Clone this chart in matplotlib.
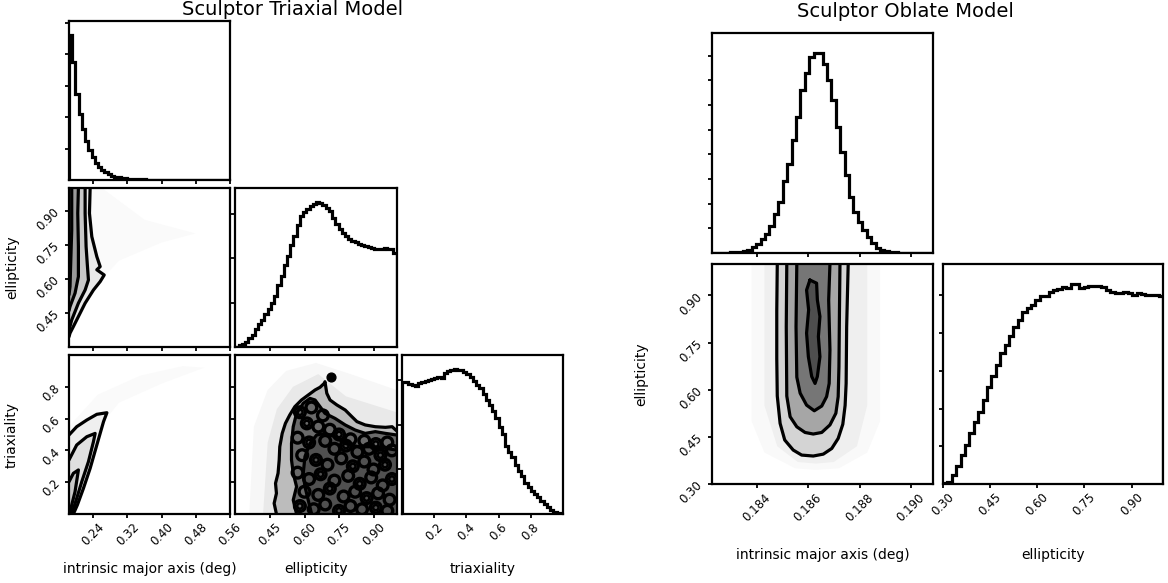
import numpy as np
from matplotlib import pyplot as plt

plt.rcParams['font.family'] = 'DejaVu Sans'

W, H = 1168, 583

# ---------------- Sculptor triaxial model ----------------
axis_lim = (0.1825, 0.561)
ell_lim = (0.30, 1.00)
tri_lim = (0.0, 1.0)

axis_ticks = [0.24, 0.32, 0.40, 0.48, 0.56]
axis_labels = ['0.24', '0.32', '0.40', '0.48', '0.56']
ell_ticks = [0.45, 0.60, 0.75, 0.90]
ell_labels = ['0.45', '0.60', '0.75', '0.90']
tri_ticks = [0.2, 0.4, 0.6, 0.8]
tri_labels = ['0.2', '0.4', '0.6', '0.8']

# 1D histograms (50 bins, arbitrary units)
tri_axis_hist = [4.60, 3.76, 2.73, 2.10, 1.62, 1.25, 0.97, 0.74, 0.55, 0.42,
                 0.32, 0.24, 0.18, 0.14, 0.10, 0.08, 0.06, 0.05, 0.04, 0.03,
                 0.03, 0.02, 0.02, 0.02, 0.01, 0.01, 0.01, 0.01, 0.01, 0.01,
                 0.01, 0.01, 0.0, 0.0, 0.0, 0.0, 0.0, 0.0, 0.0, 0.0,
                 0.0, 0.0, 0.0, 0.0, 0.0, 0.0, 0.0, 0.0, 0.0, 0.0]
tri_ell_hist = [0.01, 0.04, 0.07, 0.12, 0.20, 0.27, 0.40, 0.51, 0.61, 0.74,
                0.85, 1.00, 1.15, 1.40, 1.60, 1.85, 2.05, 2.30, 2.50, 2.75,
                2.95, 3.05, 3.12, 3.18, 3.22, 3.26, 3.24, 3.20, 3.13, 3.06,
                2.90, 2.78, 2.66, 2.58, 2.50, 2.44, 2.40, 2.36, 2.33, 2.30,
                2.28, 2.25, 2.23, 2.22, 2.21, 2.22, 2.23, 2.22, 2.20, 2.13]
tri_tri_hist = [2.96, 2.95, 2.92, 2.90, 2.88, 2.93, 2.96, 2.98, 3.01, 3.02,
                3.04, 3.06, 3.05, 3.15, 3.20, 3.23, 3.24, 3.23, 3.22, 3.19,
                3.14, 3.07, 2.99, 2.90, 2.82, 2.68, 2.55, 2.45, 2.30, 2.15,
                1.95, 1.80, 1.52, 1.40, 1.28, 1.10, 0.97, 0.85, 0.70, 0.60,
                0.52, 0.45, 0.37, 0.30, 0.22, 0.15, 0.08, 0.04, 0.02, 0.01]

# major axis vs ellipticity contours
ae_c1_x = [0.2322, 0.2306, 0.2361, 0.2479, 0.2558, 0.2479, 0.2653, 0.2558, 0.2400, 0.2204, 0.2046, 0.1928, 0.1849, 0.1825]
ae_c1_y = [1.000, 0.889, 0.786, 0.698, 0.654, 0.640, 0.617, 0.588, 0.551, 0.493, 0.434, 0.390, 0.361, 0.345]
ae_c2_x = [0.2204, 0.2204, 0.2227, 0.2259, 0.2282, 0.2204, 0.2046, 0.1889, 0.1825]
ae_c2_y = [1.000, 0.889, 0.742, 0.654, 0.595, 0.551, 0.493, 0.419, 0.375]
ae_c3_x = [0.2046, 0.2031, 0.2046, 0.2046, 0.1967, 0.1849, 0.1825]
ae_c3_y = [1.000, 0.889, 0.742, 0.610, 0.537, 0.478, 0.460]
ae_c4_x = [0.1889, 0.1889, 0.1865, 0.1849, 0.1825]
ae_c4_y = [1.000, 0.815, 0.668, 0.566, 0.530]
ae_haze_x = [0.1825, 0.26, 0.36, 0.48, 0.40, 0.30, 0.25, 0.1825]
ae_haze_y = [1.00, 1.00, 0.86, 0.80, 0.76, 0.68, 0.58, 0.35]

# major axis vs triaxiality contours
at_c1_x = [0.1825, 0.2006, 0.2243, 0.2479, 0.2716, 0.2637, 0.2479, 0.2322, 0.2164, 0.2022, 0.1928]
at_c1_y = [0.497, 0.549, 0.591, 0.627, 0.637, 0.581, 0.434, 0.287, 0.161, 0.057, 0.0]
at_c2_x = [0.1825, 0.2006, 0.2243, 0.2440, 0.2400, 0.2282, 0.2125, 0.2006, 0.1889]
at_c2_y = [0.340, 0.434, 0.486, 0.507, 0.455, 0.329, 0.203, 0.098, 0.0]
at_c3_x = [0.1825, 0.1928, 0.2046, 0.2022, 0.1967, 0.1889, 0.1849]
at_c3_y = [0.203, 0.256, 0.277, 0.235, 0.140, 0.057, 0.0]
at_haze_x = [0.1825, 0.25, 0.35, 0.45, 0.50, 0.40, 0.30, 0.27, 0.1825]
at_haze_y = [0.55, 0.75, 0.87, 0.93, 0.92, 0.82, 0.70, 0.60, 0.45]

# ellipticity vs triaxiality contours
et_c1_x = [0.478, 0.468, 0.478, 0.474, 0.485, 0.490, 0.4925, 0.503, 0.517, 0.536, 0.558, 0.587, 0.616,
           0.646, 0.6675, 0.686, 0.689, 0.697, 0.711, 0.7405, 0.777, 0.806, 0.828, 0.864, 0.908, 0.952, 0.981, 1.0]
et_c1_y = [0.0, 0.067, 0.130, 0.193, 0.256, 0.340, 0.423, 0.507, 0.570, 0.623, 0.675, 0.717, 0.748,
           0.780, 0.797, 0.822, 0.832, 0.759, 0.717, 0.686, 0.654, 0.612, 0.581, 0.560, 0.549, 0.545, 0.549, 0.524]
et_c2_x = [0.5655, 0.551, 0.5655, 0.551, 0.5435, 0.5435, 0.551, 0.5655, 0.5945, 0.6238, 0.646, 0.6675,
           0.689, 0.733, 0.777, 0.8205, 0.864, 0.908, 0.952, 1.0]
et_c2_y = [0.0, 0.088, 0.172, 0.256, 0.340, 0.444, 0.549, 0.633, 0.696, 0.727, 0.717, 0.675,
           0.633, 0.601, 0.560, 0.528, 0.507, 0.518, 0.507, 0.497]
et_c3_x = [0.631, 0.616, 0.602, 0.5945, 0.602, 0.6238, 0.653, 0.689, 0.733, 0.777, 0.835, 0.8937, 0.952, 1.0]
et_c3_y = [0.0, 0.088, 0.172, 0.256, 0.361, 0.444, 0.497, 0.507, 0.486, 0.444, 0.423, 0.423, 0.413, 0.402]
et_blob_x = [0.7156]
et_blob_y = [0.860]
# small noisy contour islands inside the dense region
et_noise_x = [0.58, 0.63, 0.68, 0.61, 0.66, 0.71, 0.75, 0.80, 0.86, 0.91, 0.96,
              0.57, 0.62, 0.69, 0.73, 0.78, 0.83, 0.88, 0.93, 0.98,
              0.59, 0.65, 0.70, 0.76, 0.81, 0.86, 0.90, 0.95,
              0.57, 0.62, 0.67, 0.73, 0.79, 0.84, 0.89, 0.94, 0.98,
              0.60, 0.66, 0.71, 0.77, 0.82, 0.87, 0.92, 0.97,
              0.58, 0.64, 0.69, 0.75, 0.80, 0.85, 0.91, 0.96]
et_noise_y = [0.64, 0.67, 0.62, 0.57, 0.55, 0.53, 0.50, 0.47, 0.46, 0.44, 0.45,
              0.48, 0.45, 0.46, 0.41, 0.43, 0.39, 0.41, 0.37, 0.40,
              0.37, 0.34, 0.31, 0.35, 0.30, 0.33, 0.28, 0.31,
              0.26, 0.22, 0.25, 0.21, 0.24, 0.19, 0.23, 0.18, 0.22,
              0.14, 0.12, 0.16, 0.11, 0.14, 0.10, 0.13, 0.09,
              0.05, 0.03, 0.06, 0.02, 0.05, 0.03, 0.04, 0.02]
et_haze1_x = [0.36, 0.38, 0.44, 0.52, 0.65, 0.80, 1.00, 1.00]
et_haze1_y = [0.00, 0.55, 0.78, 0.90, 0.95, 0.88, 0.78, 0.00]
et_haze2_x = [0.42, 0.44, 0.48, 0.55, 0.66, 0.78, 1.00, 1.00]
et_haze2_y = [0.00, 0.45, 0.66, 0.80, 0.88, 0.74, 0.64, 0.00]

# ---------------- Sculptor oblate model ----------------
ob_axis_lim = (0.18226, 0.19086)
ob_axis_ticks = [0.184, 0.186, 0.188, 0.190]
ob_axis_labels = ['0.184', '0.186', '0.188', '0.190']
ob_ell_ticks = [0.30, 0.45, 0.60, 0.75, 0.90]
ob_ell_labels = ['0.30', '0.45', '0.60', '0.75', '0.90']

ob_axis_hist = [0.0, 0.0, 0.01, 0.02, 0.03, 0.04, 0.06, 0.09, 0.14, 0.24,
                0.38, 0.58, 0.78, 1.10, 1.60, 2.05, 2.90, 3.60, 4.60, 5.50,
                6.60, 7.30, 7.95, 8.11, 8.11, 7.68, 7.00, 6.20, 5.10, 4.10,
                3.16, 2.28, 1.67, 1.27, 0.93, 0.66, 0.40, 0.19, 0.12, 0.07,
                0.04, 0.03, 0.02, 0.01, 0.01, 0.0, 0.0, 0.0, 0.0, 0.0]
ob_ell_hist = [0.02, 0.06, 0.24, 0.48, 0.77, 1.03, 1.34, 1.65, 1.92, 2.23,
               2.58, 2.85, 3.16, 3.47, 3.69, 3.91, 4.17, 4.35, 4.57, 4.66,
               4.75, 4.88, 4.97, 4.97, 5.10, 5.15, 5.17, 5.23, 5.19, 5.30,
               5.30, 5.19, 5.22, 5.25, 5.25, 5.26, 5.22, 5.15, 5.10, 5.07,
               5.07, 5.10, 5.07, 5.01, 5.07, 5.04, 5.01, 5.01, 5.01, 4.98]

ob_c1_x = [0.18480, 0.18478, 0.18478, 0.18480, 0.18491, 0.18509, 0.18542, 0.18575, 0.18620, 0.18659,
           0.18692, 0.18717, 0.18735, 0.18744, 0.18748, 0.18750, 0.18756]
ob_c1_y = [1.00, 0.85, 0.70, 0.58, 0.493, 0.440, 0.408, 0.392, 0.389, 0.395,
           0.413, 0.445, 0.49, 0.55, 0.62, 0.80, 1.00]
ob_c2_x = [0.18517, 0.18515, 0.18517, 0.18530, 0.18556, 0.18588, 0.18620, 0.18653, 0.18685, 0.18708,
           0.18717, 0.18720, 0.18722, 0.18724]
ob_c2_y = [1.00, 0.80, 0.58, 0.514, 0.482, 0.464, 0.459, 0.464, 0.488, 0.525,
           0.578, 0.673, 0.85, 1.00]
ob_c3_x = [0.18556, 0.18553, 0.18556, 0.18569, 0.18594, 0.18624, 0.18653, 0.18672, 0.18682, 0.18685, 0.18680, 0.18685]
ob_c3_y = [1.00, 0.80, 0.64, 0.589, 0.551, 0.533, 0.548, 0.578, 0.620, 0.726, 0.885, 1.00]
ob_c4_x = [0.18607, 0.18633, 0.18636, 0.18646, 0.18640, 0.18646, 0.18636, 0.18627, 0.18614, 0.18601,
           0.18594, 0.18602, 0.18594, 0.18607]
ob_c4_y = [0.949, 0.939, 0.886, 0.833, 0.769, 0.705, 0.642, 0.620, 0.642, 0.705,
           0.780, 0.854, 0.917, 0.949]
ob_haze1_x = [0.1838, 0.1838, 0.1843, 0.1855, 0.1863, 0.1872, 0.1883, 0.1888, 0.1888]
ob_haze1_y = [1.00, 0.50, 0.40, 0.35, 0.345, 0.35, 0.40, 0.50, 1.00]
ob_haze2_x = [0.1843, 0.1843, 0.1848, 0.1856, 0.1863, 0.1870, 0.1879, 0.1883, 0.1883]
ob_haze2_y = [1.00, 0.55, 0.42, 0.37, 0.365, 0.37, 0.42, 0.55, 1.00]

LW = 2.3
fs_tick = 8.5
fs_label = 10
fs_title = 14


def panel(x, y, w, h):
    ax = fig.add_axes([x / W, (H - y - h) / H, w / W, h / H])
    for s in ax.spines.values():
        s.set_linewidth(1.6)
    ax.tick_params(direction='out', length=3, width=1.3, labelsize=fs_tick, pad=2)
    return ax


def hist(ax, vals, lim):
    edges = np.linspace(lim[0], lim[1], len(vals) + 1)
    ax.stairs(vals, edges, color='k', lw=LW)
    top = 1.1 * max(vals)
    ax.set_ylim(0, top)
    ax.set_yticks(np.arange(1, int(top) + 1))
    ax.set_yticklabels([])
    ax.set_xlim(*lim)


def xticks(ax, ticks, labels, show):
    ax.set_xticks(ticks)
    if show:
        ax.set_xticklabels(labels, rotation=45)
    else:
        ax.set_xticklabels([])


def yticks(ax, ticks, labels, show):
    ax.set_yticks(ticks)
    if show:
        ax.set_yticklabels(labels, rotation=45)
    else:
        ax.set_yticklabels([])


def line(ax, x, y):
    ax.plot(x, y, color='k', lw=LW, solid_joinstyle='round', solid_capstyle='round')


fig = plt.figure(figsize=(W / 100, H / 100), dpi=100)

cols = [69, 235.5, 402]
rows = [21, 188, 355]
pw, ph = 161, 159

# --- triaxial corner ---
ax = panel(cols[0], rows[0], pw, ph)
hist(ax, tri_axis_hist, axis_lim)
xticks(ax, axis_ticks, axis_labels, False)

ax = panel(cols[0], rows[1], pw, ph)
ax.fill(ae_haze_x, ae_haze_y, color='#fafafa', lw=0)
ax.fill_betweenx(ae_c1_y, axis_lim[0], ae_c1_x, color='#e8e8e8', lw=0)
ax.fill_betweenx(ae_c2_y, axis_lim[0], ae_c2_x, color='#c8c8c8', lw=0)
ax.fill_betweenx(ae_c3_y, axis_lim[0], ae_c3_x, color='#9a9a9a', lw=0)
ax.fill_betweenx(ae_c4_y, axis_lim[0], ae_c4_x, color='#707070', lw=0)
for cx, cy in [(ae_c1_x, ae_c1_y), (ae_c2_x, ae_c2_y), (ae_c3_x, ae_c3_y), (ae_c4_x, ae_c4_y)]:
    line(ax, cx, cy)
ax.set_xlim(*axis_lim)
ax.set_ylim(*ell_lim)
xticks(ax, axis_ticks, axis_labels, False)
yticks(ax, ell_ticks, ell_labels, True)
ax.set_ylabel('ellipticity', fontsize=fs_label)
ax.yaxis.set_label_coords(-0.31, 0.5)

ax = panel(cols[0], rows[2], pw, ph)
ax.fill(at_haze_x, at_haze_y, color='#fafafa', lw=0)
ax.fill(at_c1_x + [axis_lim[0]], at_c1_y + [0.0], color='#efefef', lw=0)
ax.fill(at_c2_x + [axis_lim[0]], at_c2_y + [0.0], color='#e0e0e0', lw=0)
ax.fill(at_c3_x + [axis_lim[0]], at_c3_y + [0.0], color='#c8c8c8', lw=0)
for cx, cy in [(at_c1_x, at_c1_y), (at_c2_x, at_c2_y), (at_c3_x, at_c3_y)]:
    line(ax, cx, cy)
ax.set_xlim(*axis_lim)
ax.set_ylim(*tri_lim)
xticks(ax, axis_ticks, axis_labels, True)
yticks(ax, tri_ticks, tri_labels, True)
ax.set_xlabel('intrinsic major axis (deg)', fontsize=fs_label)
ax.xaxis.set_label_coords(0.5, -0.30)
ax.set_ylabel('triaxiality', fontsize=fs_label)
ax.yaxis.set_label_coords(-0.31, 0.5)

ax = panel(cols[1], rows[1], pw, ph)
hist(ax, tri_ell_hist, ell_lim)
xticks(ax, ell_ticks, ell_labels, False)

ax = panel(cols[1], rows[2], pw, ph)
ax.fill(et_haze1_x, et_haze1_y, color='#f7f7f7', lw=0)
ax.fill(et_haze2_x, et_haze2_y, color='#e9e9e9', lw=0)
ax.fill(et_c1_x + [1.0], et_c1_y + [0.0], color='#bcbcbc', lw=0)
ax.fill(et_c2_x + [1.0], et_c2_y + [0.0], color='#6a6a6a', lw=0)
ax.fill(et_c3_x + [1.0], et_c3_y + [0.0], color='#505050', lw=0)
for cx, cy in [(et_c1_x, et_c1_y), (et_c2_x, et_c2_y), (et_c3_x, et_c3_y)]:
    line(ax, cx, cy)
ax.scatter(et_noise_x, et_noise_y, s=60, facecolors='none', edgecolors='k', linewidths=2.4)
ax.scatter(et_noise_x[::3], et_noise_y[::3], s=15, facecolors='none', edgecolors='k', linewidths=1.8)
ax.scatter(et_blob_x, et_blob_y, s=40, color='k')
ax.set_xlim(*ell_lim)
ax.set_ylim(*tri_lim)
xticks(ax, ell_ticks, ell_labels, True)
yticks(ax, tri_ticks, tri_labels, False)
ax.set_xlabel('ellipticity', fontsize=fs_label)
ax.xaxis.set_label_coords(0.5, -0.30)

ax = panel(cols[2], rows[2], pw, ph)
hist(ax, tri_tri_hist, tri_lim)
xticks(ax, tri_ticks, tri_labels, True)
ax.set_xlabel('triaxiality', fontsize=fs_label)
ax.xaxis.set_label_coords(0.5, -0.30)

fig.text(182 / W, 1 - 0 / H, 'Sculptor Triaxial Model', fontsize=fs_title, ha='left', va='top')

# --- oblate corner ---
ax = panel(712, 33, 221, 220)
hist(ax, ob_axis_hist, ob_axis_lim)
xticks(ax, ob_axis_ticks, ob_axis_labels, False)

ax = panel(712, 264, 221, 220)
ax.fill(ob_haze1_x, ob_haze1_y, color='#f9f9f9', lw=0)
ax.fill(ob_haze2_x, ob_haze2_y, color='#efefef', lw=0)
ax.fill(ob_c1_x, ob_c1_y, color='#d4d4d4', lw=0)
ax.fill(ob_c2_x, ob_c2_y, color='#a6a6a6', lw=0)
ax.fill(ob_c3_x, ob_c3_y, color='#767676', lw=0)
ax.fill(ob_c4_x, ob_c4_y, color='#4e4e4e', lw=0)
for cx, cy in [(ob_c1_x, ob_c1_y), (ob_c2_x, ob_c2_y), (ob_c3_x, ob_c3_y), (ob_c4_x, ob_c4_y)]:
    line(ax, cx, cy)
ax.set_xlim(*ob_axis_lim)
ax.set_ylim(*ell_lim)
xticks(ax, ob_axis_ticks, ob_axis_labels, True)
yticks(ax, ob_ell_ticks, ob_ell_labels, True)
ax.set_xlabel('intrinsic major axis (deg)', fontsize=fs_label)
ax.xaxis.set_label_coords(0.5, -0.29)
ax.set_ylabel('ellipticity', fontsize=fs_label)
ax.yaxis.set_label_coords(-0.29, 0.5)

ax = panel(943, 264, 220, 220)
hist(ax, ob_ell_hist, ell_lim)
xticks(ax, ob_ell_ticks, ob_ell_labels, True)
ax.set_xlabel('ellipticity', fontsize=fs_label)
ax.xaxis.set_label_coords(0.5, -0.29)

fig.text(797 / W, 1 - 2 / H, 'Sculptor Oblate Model', fontsize=fs_title, ha='left', va='top')

fig.savefig('out.png', dpi=100)
